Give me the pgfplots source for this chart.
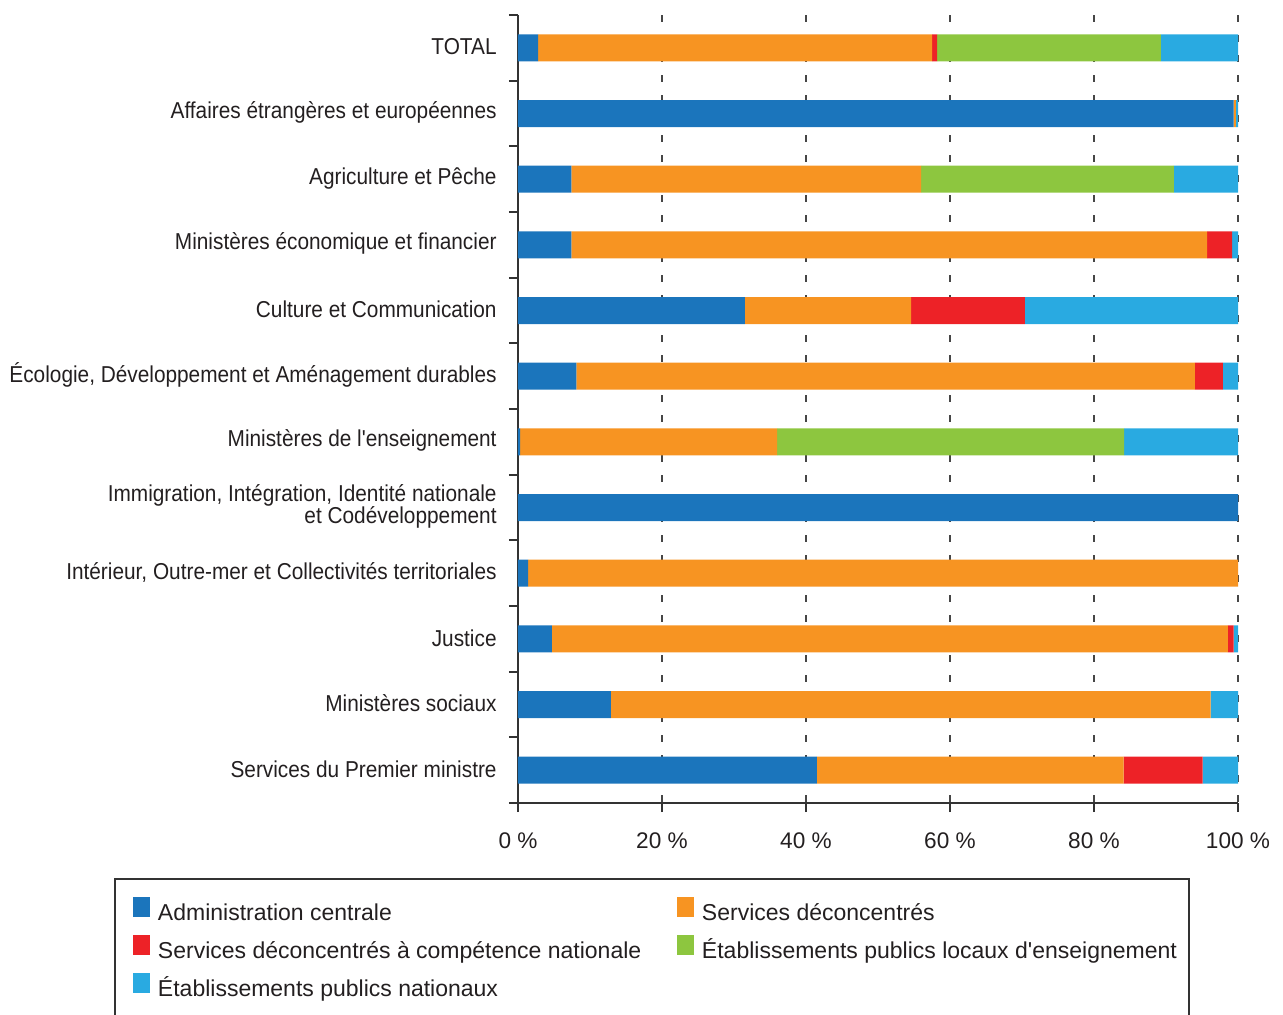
\documentclass[border=0pt]{standalone}
\usepackage{fontspec}
\setmainfont{Liberation Sans}
\newfontfamily\narrowfont{Liberation Sans}[FakeStretch=0.905]
\newfontfamily\legfont{Liberation Sans}
\usepackage{pgfplots}
\pgfplotsset{compat=1.18}
\usepackage{pgfplotstable}

\definecolor{cBlue}{RGB}{27,117,188}
\definecolor{cOrange}{RGB}{247,148,34}
\definecolor{cRed}{RGB}{237,34,39}
\definecolor{cGreen}{RGB}{141,198,63}
\definecolor{cLight}{RGB}{41,170,225}
\definecolor{axisgray}{RGB}{51,51,51}
\definecolor{gridgray}{RGB}{70,70,70}
\definecolor{textgray}{RGB}{35,31,32}

\pgfplotstableread{
y admin deconc scn eple epn
0 2.8 54.7 0.7 31.1 10.7
1 99.4 0.3 0 0 0.3
2 7.4 48.6 0 35.1 8.9
3 7.4 88.3 3.5 0 0.8
4 31.5 23.1 15.8 0 29.6
5 8.1 85.9 3.9 0 2.1
6 0.3 35.7 0 48.2 15.8
7 100 0 0 0 0
8 1.4 98.6 0 0 0
9 4.7 93.9 0.8 0 0.6
10 12.9 83.3 0 0 3.8
11 41.5 42.6 11.0 0 4.9
}\datatable

\begin{document}
\begin{tikzpicture}
\begin{axis}[
  at={(0pt,0pt)}, anchor=south west,
  scale only axis, width=360pt, height=394pt,
  xbar stacked, bar width=13.5pt,
  xmin=0, xmax=100, ymin=-0.5, ymax=11.5, y dir=reverse,
  axis x line*=bottom, axis y line*=left,
  axis line style={line width=0.9pt, color=axisgray, -},
  tick align=outside, major tick length=4.5pt,
  xtick={0,20,40,60,80,100},
  xticklabels={0 \%,20 \%,40 \%,60 \%,80 \%,100 \%},
  xtick style={line width=0.9pt, color=axisgray},
  xticklabel style={font=\fontsize{11.3pt}{13pt}\selectfont, text=textgray, inner sep=0pt, yshift=-10pt},
  ytick={0,1,2,3,4,5,6,7,8,9,10,11},
  yticklabels={TOTAL,
    Affaires étrangères et européennes,
    Agriculture et Pêche,
    Ministères économique et financier,
    Culture et Communication,
    {Écologie, Développement et Aménagement durables},
    Ministères de l'enseignement,
    {Immigration, Intégration, Identité nationale\\et Codéveloppement},
    {Intérieur, Outre-mer et Collectivités territoriales},
    Justice,
    Ministères sociaux,
    Services du Premier ministre},
  yticklabel style={font=\narrowfont\fontsize{11.5pt}{11.2pt}\selectfont, text=textgray, align=right, inner sep=0pt, xshift=-6pt, yshift=0.5pt},
  ytick style={draw=none},
  extra y ticks={-0.5,0.5,1.5,2.5,3.5,4.5,5.5,6.5,7.5,8.5,9.5,10.5,11.5},
  extra y tick labels={},
  extra y tick style={ytick style={/tikz/draw=axisgray, /tikz/line width=0.9pt}},
  xmajorgrids,
  major grid style={draw=gridgray, line width=0.8pt, dash pattern=on 3.5pt off 6.5pt},
  legend columns=2,
  legend style={at={(0,0)}, anchor=north west, xshift=-192.5pt, yshift=-46.75pt,
    draw=none, fill=none, inner sep=0pt, outer sep=0pt, row sep=4.5pt,
    font=\legfont\fontsize{11.5pt}{13pt}\selectfont, text=textgray,
    nodes={inner sep=0pt, text height=8.5pt, text depth=2.5pt},
    /tikz/every odd column/.append style={column sep=4pt}},
  legend cell align=left,
]
\addplot[fill=cBlue, draw=none, legend image code/.code={\fill[cBlue] (0pt,-1pt) rectangle (8.5pt,9pt);}] table[x=admin, y=y] {\datatable};
\addlegendentry{\makebox[259.5pt][l]{Administration centrale}}
\addplot[fill=cOrange, draw=none, legend image code/.code={\fill[cOrange] (0pt,-1pt) rectangle (8.5pt,9pt);}] table[x=deconc, y=y] {\datatable};
\addlegendentry{Services déconcentrés}
\addplot[fill=cRed, draw=none, legend image code/.code={\fill[cRed] (0pt,-1pt) rectangle (8.5pt,9pt);}] table[x=scn, y=y] {\datatable};
\addlegendentry{\makebox[259.5pt][l]{Services déconcentrés à compétence nationale}}
\addplot[fill=cGreen, draw=none, legend image code/.code={\fill[cGreen] (0pt,-1pt) rectangle (8.5pt,9pt);}] table[x=eple, y=y] {\datatable};
\addlegendentry{Établissements publics locaux d'enseignement}
\addplot[fill=cLight, draw=none, legend image code/.code={\fill[cLight] (0pt,-1pt) rectangle (8.5pt,9pt);}] table[x=epn, y=y] {\datatable};
\addlegendentry{\makebox[259.5pt][l]{Établissements publics nationaux}}
\end{axis}
\draw[axisgray, line width=0.6pt] (-201.5pt,-38pt) rectangle (335.5pt,-130pt);
\pgfresetboundingbox
\useasboundingbox (-259pt,401.5pt) rectangle (382.5pt,-105.5pt);
\end{tikzpicture}
\end{document}
